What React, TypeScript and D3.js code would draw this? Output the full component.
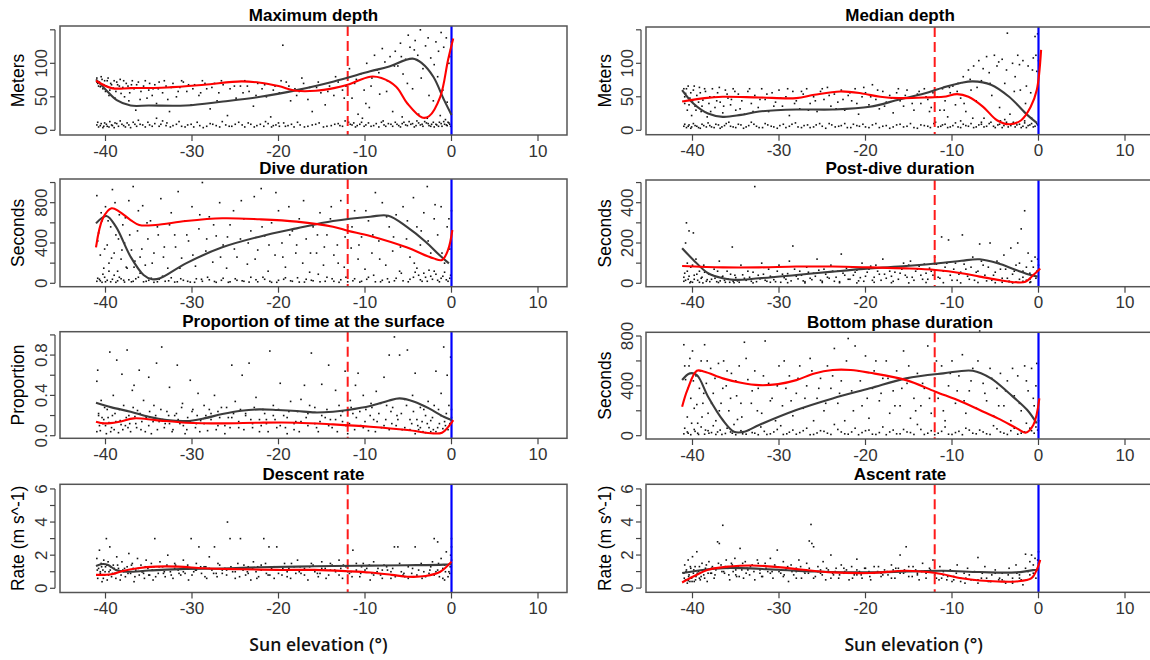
import React from "react";
import * as d3 from "d3";

// ---- shared axis settings ----
const X_TICKS = [-40, -30, -20, -10, 0, 10];
const CIVIL_TWILIGHT = -12;
const HORIZON = 0;

// ---- Maximum depth (m) ----
const maxDepthPts = [
  -41,8, -40.8,5, -40.5,10, -40.2,6, -39.9,9, -39.6,5, -39.2,7, -38.9,11, -38.5,6, -38.1,9, -37.7,5, -37.3,8, -36.8,12, -36.4,6, -36,9, -35.4,5, -34.9,8, -34.3,10, -33.8,6, -33.4,14, -33,7, -32.5,5, -31.8,9, -31.2,6, -30.5,8, -29.8,5, -29.1,7, -28.3,6, -27.6,9, -26.8,5, -26.1,8, -25.4,6, -24.6,12, -23.9,5, -23.2,9, -22.5,7, -21.7,6, -21.2,10, -20.8,5, -20.3,8, -19.9,6, -19.4,11, -18.9,7, -18.2,5, -17.5,8, -16.6,6, -15.7,9, -14.8,5, -13.9,7, -13.1,10, -12.6,6, -11.9,12, -11.5,8, -11.1,5, -10.6,9, -10.1,6, -9.6,11, -9,7, -8.4,5, -7.8,8, -7.3,10, -6.8,6, -6.3,9, -5.9,5, -5.5,12, -5.1,7, -4.7,9, -4.3,5, -4,14, -3.6,8, -3.3,6, -2.9,11, -2.6,7, -2.3,9, -2,5, -1.7,8, -1.4,12, -1.1,6, -0.8,9, -0.5,7, -0.3,11, -0.1,6,
  -40.9,12, -40.6,7, -40.3,4, -40.1,11, -39.8,6, -39.5,13, -39.3,8, -39,4, -38.7,10, -38.3,14, -37.9,7, -37.5,11, -37.1,4, -36.6,9, -36.2,15, -35.7,8, -35.1,12, -34.6,6, -34.1,18, -33.6,9, -32.9,11, -32.2,7, -31.5,13, -30.8,5, -30.1,9, -29.4,12, -28.7,4, -27.9,10, -27.2,7, -26.5,13, -25.7,6, -25,9, -24.2,8, -23.5,11, -22.8,5, -22.1,9, -21.5,13, -20.6,7, -20,11, -19.2,6, -18.5,9, -17.8,12, -17,5, -16.1,8, -15.3,11, -14.4,6, -13.5,9, -12.9,7, -12.3,14, -11.7,9, -11.3,11, -10.9,7, -10.4,12, -9.9,8, -9.3,6, -8.7,10, -8.1,12, -7.6,6, -7,9, -6.5,12, -6.1,7, -5.7,10, -5.3,8, -4.9,13, -4.5,10, -4.1,7, -3.8,11, -3.4,9, -3.1,13, -2.7,10, -2.4,6, -2.1,12, -1.8,9, -1.5,6, -1.2,10, -0.9,13, -0.6,8, -0.4,12, -0.2,9,
  -41,78, -40.9,70, -40.7,72, -40.6,65, -40.4,76, -40.2,68, -40,58, -39.8,74, -39.6,52, -39.4,70, -39.1,63, -38.9,48, -38.7,72, -38.4,66, -38.2,55, -37.9,74, -37.6,70, -37.3,44, -37,68, -36.7,62, -36.5,30, -36.2,72, -35.9,58, -35.6,66, -35.2,48, -34.9,70, -34.5,62, -34.1,40, -33.8,72, -33.4,56, -33,66, -32.6,28, -32.2,70, -31.8,50, -31.4,64, -31,72, -30.6,58, -30.1,38, -29.7,68, -29.2,52, -28.8,74, -28.3,62, -27.9,32, -27.4,70, -26.9,56, -26.4,68, -25.9,22, -25.4,72, -24.9,48, -24.4,66, -23.9,74, -23.4,58, -22.9,36, -22.4,70, -21.9,62, -21.4,50, -20.9,20, -20.4,66, -19.9,56, -19.5,127, -19.1,72, -18.6,44, -18.1,62, -17.6,58, -17.1,70, -16.6,46, -16.1,28, -15.6,64, -15.1,56, -14.6,38, -14.1,66, -13.6,52, -13.1,72, -12.6,60,
  -41,72, -40.8,66, -40.5,80, -40.3,62, -40.1,74, -39.9,66, -39.7,78, -39.5,60, -39.3,68, -39,74, -38.8,58, -38.6,68, -38.3,76, -38,64, -37.8,50, -37.4,66, -37.2,56, -36.9,74, -36.4,68, -36,46, -35.4,74, -35,60, -34.6,52, -34.3,68, -33.9,62, -33.2,74, -32.8,46, -32.4,64, -31.6,58, -31.2,74, -30.4,68, -29.9,62, -29,56, -28.5,70, -27.7,64, -27.1,44, -26.6,74, -25.6,62, -25.1,66, -24.1,56, -23.6,66, -22.6,52, -21.6,68, -20.6,60, -19.7,74, -18.8,66, -17.9,52, -17.3,78, -16.4,64, -15.4,72, -14.3,58, -13.4,80, -12.4,48, -12.2,66,
  -11.8,92, -11.5,48, -11.2,70, -10.8,24, -10.5,84, -10.1,60, -9.8,100, -9.5,34, -9.2,78, -8.9,112, -8.6,90, -8.3,54, -8,122, -7.7,102, -7.4,74, -7.1,110, -6.8,28, -6.5,118, -6.2,96, -5.9,130, -5.6,84, -5.3,106, -5,142, -4.8,124, -4.5,62, -4.2,134, -3.9,112, -3.6,150, -3.3,92, -3,126, -2.7,138, -2.4,108, -2.1,44, -1.8,132, -1.5,118, -1.2,146, -0.9,124, -0.6,138, -0.3,100, -0.1,120, 0,132,
  -11,76, -9.9,40, -9.3,66, -8.4,86, -7.5,58, -6.6,96, -5.8,110, -5.1,70, -4.3,120, -3.5,78, -2.6,52, -2,98, -1.6,80, -1,60, -0.5,42, -0.2,110,
  -10.3,18, -7.9,14, -5.7,20, -3.8,24, -2.8,18, -1.3,22, -0.7,16,
];
const maxDepthSmooth = [-41.1,76, -40,61, -38.7,45, -37.1,37, -35,37, -30.7,37, -26.4,43, -22.1,50, -17.9,60, -13.6,73, -9.4,88, -7.3,95, -4.5,107, -3.4,100, -2.1,80, -0.85,45, 0,23];
const maxDepthModel = [-41.1,74, -39.3,63, -37.1,63, -32.9,64, -28.6,68, -24.3,73, -22.1,71, -20,66, -17.9,59, -15.7,59, -13.6,63, -12,68, -9.4,80, -8.1,78, -6.4,65, -5.1,40, -3.4,19, -2.6,21, -1.3,50, -0.4,105, 0.2,137];

// ---- Median depth (m) ----
const medDepthPts = [
  -41,6, -40.7,4, -40.4,8, -40.1,5, -39.7,7, -39.3,4, -38.9,9, -38.4,5, -38,7, -37.5,4, -37,8, -36.6,5, -36.1,10, -35.6,6, -35,4, -34.4,8, -33.8,5, -33.2,12, -32.6,6, -31.9,4, -31.3,8, -30.6,5, -29.9,7, -29.2,4, -28.5,9, -27.8,5, -27.1,7, -26.4,4, -25.7,8, -25,6, -24.2,10, -23.5,5, -22.8,7, -22.1,4, -21.4,9, -20.7,6, -20,5, -19.2,8, -18.4,4, -17.6,7, -16.8,5, -16,9, -15.2,6, -14.4,4, -13.6,8, -12.8,6, -12.1,10, -11.6,5, -11.1,8, -10.5,4, -9.9,7, -9.3,5, -8.7,9, -8.1,6, -7.5,4, -6.9,8, -6.3,5, -5.7,10, -5.2,6, -4.7,8, -4.2,4, -3.7,12, -3.2,7, -2.7,5, -2.2,9, -1.8,6, -1.4,4, -1,8, -0.6,5, -0.2,10,
  -40.9,9, -40.5,6, -40.2,3, -39.9,10, -39.5,6, -39.1,3, -38.7,7, -38.2,11, -37.8,5, -37.3,9, -36.8,3, -36.3,7, -35.8,12, -35.3,5, -34.7,9, -34.1,3, -33.5,7, -32.9,9, -32.3,4, -31.6,10, -30.9,6, -30.2,3, -29.5,9, -28.8,6, -28.1,11, -27.4,4, -26.7,8, -26,5, -25.3,10, -24.6,3, -23.9,8, -23.1,6, -22.4,10, -21.7,4, -21,7, -20.3,9, -19.6,4, -18.8,10, -18,6, -17.2,3, -16.4,8, -15.6,5, -14.8,10, -14,3, -13.2,7, -12.5,4, -11.9,12, -11.3,6, -10.8,9, -10.2,5, -9.6,11, -9,4, -8.4,7, -7.8,10, -7.2,5, -6.6,9, -6,6, -5.5,12, -5,4, -4.5,9, -4,7, -3.5,5, -3,10, -2.5,8, -2,4, -1.6,11, -1.2,7, -0.8,10, -0.4,6, -0.1,8,
  -41,62, -40.9,40, -40.8,55, -40.6,30, -40.5,66, -40.3,48, -40.1,22, -39.9,60, -39.7,36, -39.5,52, -39.2,64, -39,28, -38.8,45, -38.5,58, -38.3,20, -38,50, -37.7,62, -37.4,34, -37.1,56, -36.8,42, -36.5,26, -36.2,60, -35.9,48, -35.6,38, -35.3,62, -35,30, -34.7,54, -34.3,44, -34,24, -33.6,58, -33.2,40, -32.8,52, -32.4,34, -32,62, -31.6,46, -31.2,28, -30.8,56, -30.4,42, -30,60, -29.6,36, -29.2,50, -28.8,22, -28.4,58, -28,44, -27.6,32, -27.2,54, -26.8,62, -26.4,40, -26,50, -25.6,28, -25.2,58, -24.8,46, -24.4,64, -24,36, -23.6,54, -23.2,42, -22.8,60, -22.4,30, -22,52, -21.6,44, -21.2,62, -20.8,24, -20.4,50, -20,56, -19.6,38, -19.2,68, -18.8,46, -18.4,32, -18,58, -17.6,42, -17.2,52, -16.8,26, -16.4,56, -16,44, -15.6,36, -15.2,60, -14.8,48, -14.4,30, -14,54, -13.6,40, -13.2,62, -12.8,46, -12.4,34, -12.2,56,
  -40.9,50, -40.7,62, -40.4,38, -40.2,56, -40,44, -39.8,66, -39.6,30, -39.3,42, -39.1,56, -38.9,36, -38.6,62, -38.1,40, -37.9,28, -37.5,50, -37.2,44, -36.9,64, -36.4,36, -36,54, -35.5,46, -35.1,58, -34.5,32, -34.1,50, -33.4,62, -33,28, -32.2,46, -31.4,54, -30.6,36, -29.8,48, -29,62, -28.2,40, -27.4,58, -26.6,30, -25.8,44, -25,62, -24.2,52, -23.4,32, -22.6,46, -21.8,56, -21,40, -20.2,64, -19.4,50, -18.6,60, -17.8,36, -17,48, -16.2,62, -15.4,52, -14.6,40, -13.8,58, -13,50, -12.6,28,
  -11.7,50, -11.4,30, -11.1,62, -10.8,44, -10.5,20, -10.2,56, -9.9,66, -9.6,38, -9.3,70, -9,48, -8.7,80, -8.4,28, -8.1,90, -7.8,60, -7.5,96, -7.2,44, -6.9,104, -6.6,74, -6.3,18, -6,110, -5.7,86, -5.4,52, -5.1,112, -4.8,96, -4.5,34, -4.2,106, -3.9,70, -3.6,145, -3.3,24, -3,100, -2.7,80, -2.4,112, -2.1,60, -1.8,104, -1.5,40, -1.2,96, -0.9,56, -0.6,108, -0.4,140, -0.2,88, -0.1,144, 0,104,
  -10.9,30, -10.3,64, -9.4,58, -8.6,40, -7.9,76, -7.1,64, -6.4,92, -5.6,70, -4.6,102, -3.7,90, -2.8,58, -2.2,98, -1.4,66, -0.7,90, -0.3,112,
  -9,14, -7.6,18, -6.6,12, -4.4,14, -3.9,16, -2.9,12, -1.6,14, -0.8,18,
];
const medDepthSmooth = [-41.2,60, -39.9,40, -38.2,25, -36.5,20, -34.4,23, -32.3,28, -28,31, -23.8,31, -19.5,35, -16.1,46, -13.2,55, -11,64, -8.9,71, -7.6,73, -5.5,68, -3.4,50, -1.3,23, -0.2,11];
const medDepthModel = [-41.2,43, -38.6,48, -36.5,50, -32.3,49, -28,48, -25.9,53, -22.9,58, -20.4,55, -18.3,50, -16.1,48, -13.2,49, -11,50, -9.4,54, -8.1,50, -6.4,35, -4.8,15, -3.3,9, -2,15, -0.9,35, -0.2,60, 0.3,120];

// ---- Dive duration (s) ----
const diveDurPts = [
  -41,20, -40.7,40, -40.4,10, -40.1,60, -39.8,30, -39.4,15, -39,80, -38.6,25, -38.2,45, -37.8,12, -37.3,35, -36.8,20, -36.2,60, -35.6,15, -35,30, -34.4,10, -33.8,40, -33.1,20, -32.4,55, -31.7,15, -31,30, -30.2,12, -29.5,45, -28.8,20, -28,35, -27.2,10, -26.4,50, -25.6,15, -24.8,30, -24,20, -23.2,60, -22.4,15, -21.6,40, -20.8,10, -20,30, -19.2,55, -18.4,20, -17.6,12, -16.8,40, -16,25, -15.2,15, -14.4,60, -13.6,20, -12.8,35, -12,15, -11.2,45, -10.4,20, -9.6,60, -8.8,15, -8,30, -7.2,12, -6.4,50, -5.6,25, -4.8,40, -4.2,110, -3.8,80, -3.4,20, -3,60, -2.6,130, -2.2,40, -1.8,90, -1.4,15, -1,70, -0.6,35, -0.2,50,
  -40.9,50, -40.6,25, -40.3,90, -40,15, -39.6,120, -39.2,40, -38.8,10, -38.4,60, -37.9,30, -37.5,150, -37,15, -36.5,45, -36,100, -35.3,20, -34.7,50, -34,15, -33.4,70, -32.7,25, -32,12, -31.3,45, -30.5,20, -29.7,10, -28.9,40, -28.2,60, -27.4,18, -26.6,30, -25.8,10, -25,45, -24.2,25, -23.4,12, -22.6,35, -21.8,60, -21,20, -20.2,10, -19.4,40, -18.6,25, -17.8,55, -17,12, -16.2,30, -15.4,90, -14.6,20, -13.8,45, -13,10, -12.2,60, -11.4,25, -10.6,12, -9.8,40, -9,80, -8.2,15, -7.4,45, -6.6,25, -5.8,100, -5,15, -4.4,60, -4,150, -3.6,35, -3.2,100, -2.8,20, -2.4,70, -2,120, -1.6,30, -1.2,50, -0.8,110, -0.4,20, -0.1,80,
  -41,870, -40.8,500, -40.6,280, -40.4,620, -40.2,150, -40,760, -39.8,380, -39.6,200, -39.4,560, -39.2,930, -39,300, -38.8,480, -38.6,120, -38.4,680, -38.2,240, -38,580, -37.8,400, -37.6,160, -37.3,820, -37,330, -36.8,960, -36.6,220, -36.3,520, -36,260, -35.7,770, -35.4,180, -35.1,440, -34.8,620, -34.4,300, -34,560, -33.6,840, -33.2,360, -32.8,150, -32.4,700, -32,480, -31.6,910, -31.2,250, -30.8,620, -30.4,420, -30,760, -29.6,170, -29.2,540, -28.8,1000, -28.4,320, -28,660, -27.6,210, -27.2,470, -26.8,800, -26.4,380, -26,150, -25.6,580, -25.2,720, -24.8,260, -24.4,440, -24,640, -23.6,190, -23.2,520, -22.8,860, -22.4,330, -22,940, -21.6,470, -21.2,120, -20.8,600, -20.4,280, -20,720, -19.6,400, -19.2,160, -18.8,760, -18.4,520, -18,300, -17.6,640, -17.2,200, -16.8,440, -16.4,110, -16,560, -15.6,300, -15.2,700, -14.8,180, -14.4,480, -14,640, -13.6,280, -13.2,380, -12.8,820, -12.4,160, -12,560, -11.6,350, -11.2,720, -10.8,240, -10.4,460, -10,140, -9.6,620, -9.2,300, -8.8,900, -8.4,420, -8,800, -7.6,180, -7.2,560, -6.8,320, -6.4,680, -6,120, -5.6,760, -5.2,440, -4.8,260, -4.4,850, -4,560, -3.6,380, -3.2,700, -2.8,960, -2.4,300, -2,640, -1.6,480, -1.2,760, -0.8,200, -0.5,560, -0.2,340, 0,720,
  -40.9,420, -40.5,700, -40.1,340, -39.7,620, -39.3,250, -38.9,800, -38.5,440, -38.1,330, -37.7,650, -37.2,480, -36.7,160, -36.2,720, -35.8,340, -35.2,600, -34.6,200, -33.9,480, -33.3,260, -32.6,580, -31.9,360, -31.4,150, -30.6,480, -29.9,280, -29.1,680, -28.3,440, -27.5,580, -26.7,260, -25.9,460, -25.1,340, -24.3,820, -23.5,400, -22.7,240, -21.9,560, -21.1,380, -20.3,900, -19.5,260, -18.7,480, -17.9,380, -17.1,820, -16.3,300, -15.5,480, -14.7,360, -13.9,760, -13.1,200, -12.3,460, -11.5,560, -10.7,380, -9.9,720, -9.1,480, -8.3,240, -7.5,660, -6.7,460, -5.9,360, -5.1,620, -4.3,200, -3.5,520, -2.7,420, -1.9,780, -1.1,300, -0.3,640,
];
const diveDurSmooth = [-41.1,595, -39.9,668, -38.8,562, -37.1,264, -35.6,83, -34.6,40, -33.7,50, -30.7,198, -26.5,357, -22.2,463, -17.9,545, -13.7,618, -9.4,661, -7.3,671, -5.2,562, -3,413, -1.4,281, -0.3,198];
const diveDurModel = [-41.1,357, -40.3,645, -39.3,744, -38.4,711, -37.1,628, -36.1,579, -34.2,579, -30.7,618, -26.5,645, -22.2,635, -17.9,612, -13.7,562, -12,522, -9.4,469, -5.2,357, -2.1,248, -1.1,231, -0.4,331, 0.1,529];

// ---- Post-dive duration (s) ----
const postDivePts = [
  -41,10, -40.9,50, -40.8,200, -40.7,300, -40.6,100, -40.5,20, -40.4,260, -40.2,80, -40,5, -39.9,250, -39.8,40, -39.6,120, -39.4,15, -39.2,60, -39,25, -38.7,90, -38.4,10, -38.1,45, -37.8,20, -37.5,70, -37.2,8, -36.9,110, -36.6,30, -36.3,15, -36,60, -35.7,5, -35.4,180, -35.1,40, -34.8,12, -34.4,90, -34,25, -33.6,60, -33.2,10, -32.8,480, -32.4,40, -32,100, -31.6,15, -31.2,70, -30.8,30, -30.4,8, -30,90, -29.6,45, -29.2,20, -28.8,110, -28.4,185, -28,35, -27.6,60, -27.2,12, -26.8,80, -26.4,25, -26,50, -25.6,120, -25.2,15, -24.8,70, -24.4,30, -24,90, -23.6,10, -23.2,60, -22.8,145, -22.4,40, -22,20, -21.6,80, -21.2,55, -20.8,12, -20.4,100, -20,35, -19.6,70, -19.2,15, -18.8,90, -18.4,45, -18,120, -17.6,25, -17.2,60, -16.8,10, -16.4,80, -16,50, -15.6,100, -15.2,30, -14.8,110, -14.4,15, -14,70, -13.6,40, -13.2,95, -12.8,20, -12.4,60, -12,130, -11.6,30, -11.2,230, -10.8,80, -10.4,215, -10,15, -9.6,100, -9.2,45, -8.8,240, -8.4,70, -8,20, -7.6,130, -7.2,55, -6.8,195, -6.4,90, -6,12, -5.6,200, -5.2,40, -4.8,110, -4.4,70, -4,140, -3.6,25, -3.2,175, -2.8,60, -2.4,200, -2.2,100, -2,270, -1.8,30, -1.6,360, -1.4,80, -1.2,150, -1,20, -0.8,110, -0.6,40, -0.4,130, -0.2,60, 0,90,
  -41,30, -40.8,15, -40.6,60, -40.4,35, -40.2,8, -40,90, -39.8,20, -39.5,45, -39.2,5, -38.9,30, -38.6,55, -38.3,18, -38,8, -37.7,40, -37.4,25, -37.1,60, -36.8,12, -36.5,35, -36.2,5, -35.9,22, -35.6,45, -35.3,10, -35,28, -34.6,5, -34.2,42, -33.8,15, -33.4,30, -33,55, -32.6,8, -32.2,22, -31.8,45, -31.4,10, -31,35, -30.6,18, -30.2,60, -29.8,5, -29.4,28, -29,48, -28.6,12, -28.2,70, -27.8,22, -27.4,40, -27,8, -26.6,55, -26.2,18, -25.8,35, -25.4,65, -25,10, -24.6,45, -24.2,25, -23.8,60, -23.4,30, -23,8, -22.6,50, -22.2,75, -21.8,20, -21.4,40, -21,65, -20.6,28, -20.2,10, -19.8,55, -19.4,85, -19,30, -18.6,60, -18.2,15, -17.8,45, -17.4,75, -17,35, -16.6,55, -16.2,20, -15.8,70, -15.4,40, -15,90, -14.6,30, -14.2,60, -13.8,85, -13.4,20, -13,50, -12.6,75, -12.2,40, -11.8,95, -11.4,25, -11,60, -10.6,100, -10.2,40, -9.8,70, -9.4,15, -9,55, -8.6,95, -8.2,35, -7.8,80, -7.4,15, -7,60, -6.6,110, -6.2,40, -5.8,80, -5.4,15, -5,55, -4.6,100, -4.2,25, -3.8,70, -3.4,10, -3,45, -2.6,90, -2.2,20, -1.8,60, -1.4,15, -1,50, -0.6,80, -0.3,25, -0.1,120,
  -40.3,3, -38.8,2, -37,4, -35.2,3, -33,2, -31,5, -29,3, -27,2, -25,4, -23,3, -21,2, -19,5, -17,3, -15,2, -13,4, -11,3, -9,2, -7,4, -5,3, -3,2, -1,4, -4.2,5, -3.4,8, -2.6,6, -1.8,10, -0.9,7,
];
const postDiveSmooth = [-41.2,174, -39.9,116, -38.2,50, -36.5,25, -35.2,17, -32.3,25, -28,41, -23.8,58, -19.5,74, -15.3,86, -11,102, -8.9,112, -6.8,119, -4.7,99, -2.6,66, -0.9,41, -0.1,33];
const postDiveModel = [-41.2,86, -36.5,79, -32.3,79, -28,83, -23.8,83, -19.5,79, -15.3,74, -11.9,66, -8.9,50, -6.8,33, -4.7,17, -2.6,5, -1.5,8, -0.6,41, 0.2,74];

// ---- Proportion of time at the surface ----
const surfPropPts = [
  -41,0.54, -40.9,0.65, -40.8,0.2, -40.6,0.05, -40.5,0.35, -40.3,0.12, -40.1,0.28, -39.9,0.02, -39.7,0.18, -39.5,0.83, -39.3,0.08, -39.1,0.4, -38.9,0.22, -38.7,0.75, -38.5,0.03, -38.3,0.15, -38.1,0.61, -37.9,0.3, -37.7,0.1, -37.5,0.85, -37.3,0.2, -37.1,0.04, -36.9,0.45, -36.7,0.5, -36.5,0.12, -36.3,0.25, -36.1,0.65, -35.9,0.06, -35.6,0.35, -35.3,0.18, -35,0.58, -34.7,0.02, -34.4,0.3, -34.1,0.72, -33.8,0.14, -33.5,0.88, -33.2,0.08, -32.9,0.24, -32.6,0.48, -32.3,0.04, -32,0.2, -31.7,0.7, -31.4,0.12, -31.1,0.32, -30.8,0.02, -30.5,0.18, -30.2,0.55, -29.9,0.26, -29.6,0.08, -29.3,0.42, -29,0.15, -28.6,0.3, -28.2,0.05, -27.8,0.22, -27.4,0.4, -27,0.1, -26.6,0.28, -26.2,0.02, -25.8,0.18, -25.4,0.7, -25,0.34, -24.6,0.08, -24.2,0.6, -23.8,0.2, -23.4,0.72, -23,0.12, -22.6,0.38, -22.2,0.04, -21.8,0.26, -21.4,0.16, -21,0.84, -20.6,0.3, -20.2,0.08, -19.8,0.52, -19.4,0.2, -19,0.02, -18.6,0.34, -18.2,0.12, -17.8,0.24, -17.4,0.36, -17,0.5, -16.6,0.1, -16.2,0.82, -15.8,0.28, -15.4,0.04, -15,0.51, -14.6,0.18, -14.2,0.7, -13.8,0.08, -13.4,0.45, -13,0.3, -12.6,0.14, -12.3,0.64, -12,0.02, -11.7,0.35, -11.4,0.22, -11.1,0.5, -10.8,0.62, -10.5,0.1, -10.2,0.4, -9.9,0.26, -9.6,0.05, -9.3,0.32, -9,0.16, -8.7,0.44, -8.4,0.22, -8.1,0.08, -7.8,0.58, -7.5,0.3, -7.2,0.8, -6.9,0.12, -6.6,0.98, -6.3,0.2, -6,0.8, -5.7,0.06, -5.4,0.36, -5.1,0.85, -4.8,0.16, -4.5,0.4, -4.2,0.62, -3.9,0.1, -3.6,0.28, -3.3,0.04, -3,0.2, -2.7,0.34, -2.4,0.15, -2.1,0.06, -1.8,0.64, -1.5,0.26, -1.2,0.42, -0.9,0.88, -0.7,0.1, -0.5,0.6, -0.3,0.3, -0.1,0.78, 0,0.18,
  -40.7,0.1, -40.2,0.16, -39.6,0.13, -39,0.06, -38.2,0.11, -37.4,0.08, -36.6,0.19, -35.8,0.14, -35,0.1, -34.2,0.2, -33.4,0.16, -32.6,0.12, -31.8,0.22, -31,0.1, -30.2,0.14, -29.4,0.2, -28.6,0.12, -27.8,0.16, -27,0.24, -26.2,0.1, -25.4,0.18, -24.6,0.14, -23.8,0.22, -23,0.08, -22.2,0.16, -21.4,0.12, -20.6,0.2, -19.8,0.1, -19,0.18, -18.2,0.06, -17.4,0.14, -16.6,0.22, -15.8,0.12, -15,0.2, -14.2,0.1, -13.4,0.16, -12.6,0.24, -11.8,0.12, -11,0.18, -10.2,0.08, -9.4,0.2, -8.6,0.14, -7.8,0.1, -7,0.24, -6.2,0.16, -5.4,0.08, -4.6,0.12, -4.2,0.02, -3.8,0.06, -3.4,0.14, -3,0.03, -2.6,0.08, -2.2,0.18, -1.8,0.04, -1.4,0.12, -1,0.07, -0.6,0.22, -0.2,0.12,
  -41,0.04, -40.8,0.22, -40.4,0.18, -40,0.1, -39.8,0.26, -39.4,0.04, -39.2,0.2, -38.8,0.14, -38.4,0.26, -38,0.06, -37.6,0.18, -37.2,0.12, -36.8,0.28, -36.4,0.08, -36,0.22, -35.4,0.04, -34.9,0.24, -34.5,0.14, -34,0.06, -33.6,0.26, -33.1,0.12, -32.7,0.2, -32.2,0.06, -31.6,0.16, -31.2,0.28, -30.6,0.06, -30,0.24, -29.5,0.12, -29.1,0.04, -28.4,0.2, -28,0.26, -27.2,0.06, -26.8,0.18, -26,0.28, -25.6,0.08, -25.2,0.22, -24.4,0.26, -24,0.06, -23.2,0.16, -22.8,0.28, -22,0.1, -21.6,0.22, -21.2,0.04, -20.4,0.16, -20,0.26, -19.2,0.08, -18.8,0.24, -18,0.14, -17.6,0.04, -16.8,0.18, -16.4,0.3, -15.6,0.08, -15.2,0.14, -14.4,0.26, -14,0.16, -13.2,0.04, -12.8,0.2, -12.2,0.1, -11.6,0.28, -11.2,0.06, -10.6,0.24, -10,0.14, -9.2,0.28, -8.8,0.04, -8.2,0.32, -7.6,0.16, -7.2,0.06, -6.8,0.28, -6.4,0.1, -5.8,0.22, -5.2,0.3, -4.8,0.06, -4.4,0.24, -4,0.16, -3.6,0.08, -3.2,0.26, -2.8,0.12, -2.4,0.04, -2,0.3, -1.6,0.08, -1.2,0.2, -0.8,0.14, -0.4,0.06, 0,0.26,
];
const surfPropSmooth = [-41.1,0.327, -39.3,0.281, -37.1,0.238, -35,0.188, -32.9,0.155, -30.7,0.145, -28.6,0.172, -26.5,0.215, -24.3,0.248, -22.2,0.261, -20.1,0.255, -17.9,0.245, -15.8,0.231, -13.7,0.238, -12,0.255, -9.4,0.294, -7.3,0.347, -6,0.37, -4.3,0.337, -2.6,0.271, -0.9,0.188, 0,0.155];
const surfPropModel = [-41.1,0.139, -40.1,0.122, -38.4,0.139, -36.7,0.172, -34.2,0.155, -30.7,0.129, -26.5,0.122, -22.2,0.129, -17.9,0.129, -13.7,0.112, -9.4,0.089, -5.1,0.056, -2.1,0.023, -1.1,0.03, -0.2,0.106, 0.2,0.155];

// ---- Bottom phase duration (s) ----
const bottomPts = [
  -41,15, -40.6,30, -40.2,8, -39.8,50, -39.4,20, -39,70, -38.6,12, -38.2,40, -37.8,25, -37.3,10, -36.8,45, -36.2,18, -35.6,30, -35,8, -34.4,40, -33.8,12, -33.1,25, -32.4,8, -31.7,35, -31,15, -30.2,50, -29.5,10, -28.8,28, -28,12, -27.2,40, -26.4,8, -25.6,22, -24.8,35, -24,10, -23.2,50, -22.4,15, -21.6,30, -20.8,8, -20,40, -19.2,12, -18.4,25, -17.6,8, -16.8,45, -16,15, -15.2,30, -14.4,10, -13.6,50, -12.8,20, -12,8, -11.2,35, -10.4,12, -9.6,25, -8.8,8, -8,45, -7.2,15, -6.4,30, -5.6,10, -4.8,55, -4,20, -3.2,40, -2.4,12, -1.6,30, -1,60, -0.5,20, -0.1,45,
  -40.9,60, -40.5,20, -40.1,100, -39.7,35, -39.3,10, -38.9,150, -38.5,45, -38.1,20, -37.6,80, -37.1,30, -36.6,10, -36,60, -35.4,20, -34.8,130, -34.2,15, -33.5,45, -32.8,20, -32.1,70, -31.4,10, -30.6,30, -29.8,80, -29.1,15, -28.4,45, -27.6,25, -26.8,60, -26,10, -25.2,40, -24.4,20, -23.6,90, -22.8,30, -22,12, -21.2,60, -20.4,25, -19.6,45, -18.8,10, -18,70, -17.2,30, -16.4,15, -15.6,50, -14.8,25, -14,90, -13.2,10, -12.4,40, -11.6,20, -10.8,70, -10,10, -9.2,35, -8.4,60, -7.6,20, -6.8,45, -6,15, -5.2,80, -4.4,30, -3.6,10, -2.8,60, -2,20, -1.4,100, -0.8,40, -0.3,70,
  -41,730, -40.8,450, -40.6,150, -40.4,560, -40.2,300, -40,680, -39.8,220, -39.6,480, -39.4,100, -39.2,380, -39,600, -38.8,260, -38.6,730, -38.4,420, -38.2,180, -37.9,540, -37.6,340, -37.3,120, -37,580, -36.7,260, -36.4,600, -36.1,400, -35.8,200, -35.5,500, -35.2,90, -34.9,320, -34.6,560, -34.3,150, -34,750, -33.6,450, -33.2,260, -32.8,520, -32.4,380, -32,180, -31.6,760, -31.2,420, -30.8,300, -30.4,120, -30,560, -29.6,240, -29.2,380, -28.8,480, -28.4,160, -28,340, -27.6,560, -27.2,220, -26.8,400, -26.4,620, -26,120, -25.6,300, -25.2,460, -24.8,200, -24.4,560, -24,380, -23.6,700, -23.2,260, -22.8,440, -22.4,120, -22,780, -21.6,360, -21.2,720, -20.8,520, -20.4,240, -20,640, -19.6,140, -19.2,380, -18.8,600, -18.4,280, -18,460, -17.6,600, -17.2,180, -16.8,360, -16.4,520, -16,240, -15.6,680, -15.2,420, -14.8,140, -14.4,300, -14,500, -13.6,240, -13.2,380, -12.8,720, -12.4,180, -12,460, -11.6,300, -11.2,560, -10.8,120, -10.4,400, -10,600, -9.6,260, -9.2,480, -8.8,650, -8.4,180, -8,360, -7.6,540, -7.2,220, -6.8,840, -6.4,420, -6,280, -5.6,540, -5.2,160, -4.8,380, -4.4,500, -4,240, -3.6,440, -3.2,120, -2.8,320, -2.4,480, -2,200, -1.6,560, -1.2,360, -0.8,540, -0.5,240, -0.3,400, 0,120,
  -40.9,560, -40.5,380, -40.3,620, -39.9,440, -39.5,250, -39.1,520, -38.7,340, -38.3,600, -37.8,260, -37.4,460, -36.9,200, -36.5,380, -36,520, -35.6,300, -35,440, -34.4,260, -33.8,620, -33.1,360, -32.5,200, -31.8,480, -31,280, -30.2,400, -29.4,600, -28.6,280, -27.8,460, -27,300, -26.2,520, -25.4,380, -24.6,260, -23.8,480, -23,340, -22.2,600, -21.4,200, -20.6,440, -19.8,300, -19,520, -18.2,340, -17.4,460, -16.6,240, -15.8,380, -15,560, -14.2,200, -13.4,420, -12.6,300, -11.8,600, -11,200, -10.2,500, -9.4,360, -8.6,280, -7.8,440, -7,600, -6.2,340, -5.4,460, -4.6,240, -3.8,360, -3,540, -2.2,260, -1.4,440, -0.6,300, -0.2,580,
];
const bottomSmooth = [-41.2,447, -40.3,500, -39.5,487, -38.2,313, -36.5,126, -35.2,32, -34,32, -32.3,86, -28,206, -23.8,299, -19.5,380, -15.3,460, -11,500, -7.6,521, -5.5,460, -3.4,340, -1.3,206, -0.2,99];
const bottomModel = [-41.2,233, -40.6,366, -39.5,521, -38.6,513, -36.5,460, -34.4,425, -32.3,406, -30.1,414, -28,446, -25.9,500, -23.8,527, -21.7,527, -19.5,505, -15.3,446, -11.9,353, -8.9,273, -6.8,206, -4.7,139, -2.5,59, -1.5,24, -0.6,86, 0.1,300];

// ---- Descent rate (m/s) ----
const descentPts = [
  -41,1.8, -40.9,0.6, -40.8,1.2, -40.7,2.3, -40.6,0.9, -40.5,1.5, -40.4,0.4, -40.3,1.1, -40.2,1.7, -40.1,0.8, -40,1.3, -39.9,3.0, -39.8,0.5, -39.7,1.6, -39.6,1.0, -39.5,2.5, -39.3,0.7, -39.1,1.4, -38.9,0.9, -38.7,1.9, -38.5,1.2, -38.3,0.5, -38.1,1.6, -37.9,1.0, -37.7,0.7, -37.5,1.3, -37.3,2.1, -37.1,0.9, -36.9,1.5, -36.7,0.4, -36.5,1.1, -36.3,1.8, -36.1,0.8, -35.9,1.4, -35.7,1.0, -35.5,0.6, -35.3,1.7, -35.1,1.2, -34.9,0.8, -34.7,1.5, -34.5,0.5, -34.3,3.0, -34.1,1.1, -33.9,0.9, -33.7,1.6, -33.4,1.3, -33.1,0.7, -32.8,2.0, -32.5,1.0, -32.2,0.6, -31.9,1.4, -31.6,1.1, -31.3,0.8, -31,1.7, -30.7,1.2, -30.4,0.5, -30.1,3.0, -29.8,1.0, -29.5,1.5, -29.2,2.5, -28.9,0.9, -28.6,1.3, -28.3,0.6, -28,1.9, -27.7,1.1, -27.4,2.5, -27.1,0.7, -26.8,1.4, -26.5,0.9, -26.2,1.2, -25.9,4.0, -25.6,3.0, -25.3,1.0, -25,0.6, -24.7,1.5, -24.4,3.0, -24.1,1.1, -23.8,0.8, -23.5,1.3, -23.2,0.5, -22.9,1.6, -22.6,1.0, -22.3,0.7, -22,1.4, -21.7,3.0, -21.4,0.9, -21.1,2.5, -20.8,1.2, -20.5,0.6, -20.2,2.5, -19.9,1.1, -19.6,0.8, -19.3,1.5, -19,1.0, -18.6,0.6, -18.2,1.3, -17.8,1.7, -17.4,0.9, -17,1.2, -16.6,0.5, -16.2,1.5, -15.8,1.0, -15.4,0.7, -15,1.6, -14.6,1.2, -14.2,0.8, -13.8,1.4, -13.4,1.0, -13,1.7, -12.6,0.6, -12.2,1.3, -11.8,0.9, -11.4,2.3, -11,1.1, -10.6,0.7, -10.2,1.5, -9.8,1.2, -9.4,0.5, -9,1.6, -8.6,1.0, -8.2,0.8, -7.8,1.4, -7.4,1.1, -7,0.6, -6.6,2.5, -6.2,2.5, -5.8,1.0, -5.4,0.7, -5,1.3, -4.6,0.9, -4.2,2.5, -3.8,1.1, -3.4,0.6, -3,1.4, -2.6,0.9, -2.2,1.6, -2,3.0, -1.8,1.0, -1.6,2.8, -1.4,0.7, -1.2,1.8, -1,1.2, -0.8,0.5, -0.6,2.2, -0.4,1.4, -0.2,0.9, -0.1,2.0, 0,1.7, 0,3.0, 0,2.5,
  -40.6,1.0, -39.4,1.3, -38,1.1, -36.8,1.2, -35.6,0.9, -34.4,1.3, -33.2,1.0, -32,1.2, -30.8,0.9, -29.6,1.1, -28.4,1.3, -27.2,0.9, -26,1.1, -24.8,1.2, -23.6,1.0, -22.4,1.3, -21.2,0.8, -20,1.1, -18.8,1.2, -17.6,1.0, -16.4,1.3, -15.2,0.9, -14,1.1, -12.8,1.2, -11.6,1.0, -10.4,1.3, -9.2,0.9, -8,1.1, -6.8,1.2, -5.6,0.8, -4.4,0.7, -3.2,1.0, -2.4,1.3, -1.6,1.1, -0.8,1.4, -0.3,1.0,
  -40.95,1.1, -40.75,0.8, -40.45,1.3, -40.25,0.6, -40.05,1.0, -39.85,1.4, -39.65,0.8, -39.45,1.1, -39.2,0.9, -39,1.2, -38.8,0.6, -38.6,1.4, -38.4,1.0, -38.2,0.8, -37.8,1.2, -37.4,0.9, -37,1.4, -36.6,0.7, -36.2,1.2, -35.8,1.0, -35.4,1.3, -35,0.8, -34.6,1.1, -34.2,0.7, -33.8,1.3, -33.3,0.9, -32.9,1.4, -32.4,0.8, -32,1.5, -31.5,0.9, -31,1.0, -30.5,1.4, -30,0.8, -29.5,1.1, -29,1.3, -28.5,0.7, -28,1.2, -27.5,0.9, -27,1.5, -26.5,1.1, -26,0.8, -25.5,1.3, -25,1.0, -24.5,0.7, -24,1.4, -23.5,0.9, -23,1.2, -22.5,0.6, -22,1.1, -21.5,1.5, -21,0.8, -20.5,1.3, -20,0.9, -19.5,1.2, -19,0.7, -18.5,1.5, -18,0.9, -17.5,1.3, -17,0.8, -16.5,1.1, -16,1.4, -15.5,0.9, -15,1.2, -14.5,0.6, -14,1.5, -13.5,1.1, -13,0.8, -12.5,1.4, -12,1.0, -11.5,0.7, -11,1.5, -10.5,0.9, -10,1.1, -9.5,1.4, -9,0.8, -8.5,1.2, -8,0.6, -7.5,1.3, -7,1.0, -6.5,0.7, -6,1.5, -5.5,0.9, -5,0.6, -4.5,1.2, -4,0.8, -3.5,1.5, -3,0.7, -2.5,1.1, -2,0.8, -1.5,1.5, -1,0.6, -0.7,1.0, -0.4,0.7, -0.15,1.3,
];
const descentSmooth = [-41.1,1.35, -40.3,1.47, -39.7,1.41, -38.8,1.11, -37.6,1.0, -35,1.07, -30.7,1.17, -26.5,1.19, -22.2,1.27, -17.9,1.31, -13.7,1.35, -9.4,1.37, -5.1,1.39, -0.9,1.43, 0,1.47];
const descentModel = [-41.1,0.81, -39.3,0.85, -38,1.05, -36.3,1.21, -34.2,1.31, -31.6,1.31, -28.6,1.21, -24.3,1.15, -20.1,1.11, -15.8,1.11, -12,1.03, -9.4,0.95, -6.9,0.81, -5.1,0.7, -3,0.74, -1.3,1.0, 0,1.61];

// ---- Ascent rate (m/s) ----
const ascentPts = [
  -41,0.9, -40.9,1.4, -40.8,0.5, -40.7,1.1, -40.6,0.3, -40.5,1.7, -40.4,0.8, -40.3,0.4, -40.2,1.2, -40.1,0.6, -40,1.9, -39.9,0.9, -39.8,0.4, -39.7,1.3, -39.6,0.7, -39.5,2.2, -39.3,1.0, -39.1,0.5, -38.9,1.5, -38.7,0.8, -38.5,1.2, -38.3,0.4, -38.1,1.6, -37.9,0.9, -37.7,1.3, -37.5,0.6, -37.3,1.1, -37.1,2.8, -36.9,2.7, -36.7,1.4, -36.5,3.8, -36.3,0.9, -36.1,1.7, -35.9,1.2, -35.7,0.5, -35.5,1.5, -35.3,1.0, -35.1,1.8, -34.9,0.7, -34.7,1.3, -34.5,2.4, -34.3,1.1, -34.1,0.6, -33.9,1.6, -33.7,1.2, -33.4,0.8, -33.1,1.4, -32.8,0.5, -32.5,1.7, -32.2,1.1, -31.9,0.7, -31.6,1.5, -31.3,1.0, -31,1.8, -30.7,0.6, -30.4,1.3, -30.2,2.3, -29.8,0.9, -29.5,1.6, -29.2,1.1, -28.9,0.4, -28.6,1.4, -28.3,0.8, -28,1.2, -27.7,1.7, -27.4,0.6, -27.1,1.0, -26.8,1.5, -26.5,2.85, -26.3,3.85, -26.2,2.7, -26,2.5, -25.8,0.7, -25.5,1.3, -25.2,0.9, -24.9,1.6, -24.6,0.5, -24.3,1.1, -24,2.0, -23.7,0.8, -23.4,1.2, -23.1,0.6, -22.8,1.4, -22.5,0.9, -22.2,1.1, -21.9,0.5, -21.6,1.3, -21.3,0.8, -21,1.75, -20.7,1.0, -20.4,0.6, -20.1,1.2, -19.8,0.9, -19.4,0.5, -19,1.3, -18.6,1.0, -18.2,0.7, -17.8,1.1, -17.4,0.8, -17,1.4, -16.6,0.6, -16.2,1.2, -16,2.0, -15.6,0.9, -15.3,2.5, -15,1.3, -14.6,0.7, -14.2,1.1, -13.8,0.5, -13.4,1.5, -13,0.9, -12.6,1.2, -12.2,1.7, -11.8,0.6, -11.4,1.3, -11,0.8, -10.6,0.5, -10.2,1.1, -9.8,0.7, -9.4,1.4, -9,0.4, -8.6,0.9, -8.2,1.2, -7.8,0.5, -7.4,1.0, -7,1.85, -6.6,0.6, -6.2,1.3, -5.8,0.4, -5.4,0.8, -5,1.1, -4.6,0.5, -4.2,0.9, -3.8,0.3, -3.4,1.2, -3,0.6, -2.6,1.4, -2.2,0.8, -1.8,0.2, -1.5,2.05, -1.2,1.0, -1,1.6, -0.8,2.0, -0.6,0.7, -0.4,1.8, -0.2,1.1, 0,2.2, 0,1.5,
  -40.5,0.45, -39.2,0.6, -37.8,0.9, -36.4,1.0, -35,0.8, -33.6,1.1, -32.2,0.9, -30.8,1.0, -29.4,0.8, -28,1.0, -26.6,0.9, -25.2,1.1, -23.8,0.9, -22.4,1.0, -21,0.8, -19.6,1.0, -18.2,0.9, -16.8,1.1, -15.4,1.0, -14,0.9, -12.6,1.0, -11.2,0.6, -9.8,0.5, -8.4,0.6, -7,0.5, -5.6,0.4, -4.2,0.5, -3,0.4, -2.2,0.6, -1.4,0.5, -0.6,0.9,
  -40.95,0.6, -40.75,1.0, -40.45,0.7, -40.25,1.3, -40.05,0.4, -39.85,1.1, -39.65,0.5, -39.45,0.9, -39.2,1.3, -39,0.7, -38.8,1.1, -38.6,0.6, -38.4,1.4, -38.2,0.9, -37.8,1.2, -37.4,0.8, -37,1.5, -36.6,1.0, -36.2,1.3, -35.8,0.8, -35.4,1.4, -35,1.1, -34.6,0.7, -34.2,1.5, -33.8,0.9, -33.3,1.3, -32.9,1.0, -32.4,1.5, -32,0.7, -31.5,1.2, -31,0.9, -30.5,1.4, -30,1.0, -29.5,0.7, -29,1.3, -28.5,1.0, -28,0.6, -27.5,1.3, -27,0.9, -26.5,1.2, -26,0.6, -25.5,1.0, -25,0.8, -24.5,1.2, -24,0.6, -23.5,1.0, -23,0.8, -22.5,1.2, -22,0.9, -21.5,0.6, -21,1.1, -20.5,0.8, -20,1.2, -19.5,0.7, -19,0.9, -18.5,1.3, -18,0.8, -17.5,1.0, -17,0.6, -16.5,1.2, -16,0.9, -15.5,1.1, -15,0.7, -14.5,1.3, -14,0.8, -13.5,1.0, -13,0.6, -12.5,1.1, -12,0.8, -11.5,0.5, -11,1.0, -10.5,0.7, -10,0.4, -9.5,0.9, -9,0.6, -8.5,0.3, -8,0.8, -7.5,0.5, -7,0.3, -6.5,0.9, -6,0.6, -5.5,0.4, -5,0.9, -4.5,0.6, -4,0.4, -3.5,0.8, -3,0.3, -2.5,0.9, -2,0.5, -1.5,1.2, -1,0.8, -0.6,1.4, -0.3,0.6, -0.1,1.7,
];
const ascentSmooth = [-41.2,0.91, -38.6,1.11, -36.5,1.21, -34.4,1.21, -30.1,1.11, -25.9,1.0, -19.5,0.95, -15.3,1.0, -11,1.05, -6.8,0.97, -2.6,0.95, 0,1.15];
const ascentModel = [-41.2,0.34, -39.9,0.7, -38.2,1.11, -35.7,1.31, -33.1,1.37, -30.1,1.27, -27.2,1.11, -23.8,0.95, -19.5,0.91, -15.3,1.05, -11.9,0.91, -8.9,0.6, -6.8,0.46, -4.7,0.4, -2.6,0.4, -0.8,0.6, -0.2,1.11, 0.2,1.71];

// ---- panel titles, axis labels and value ticks ----
const titles = [
  "Maximum depth", "Median depth", "Dive duration", "Post-dive duration",
  "Proportion of time at the surface", "Bottom phase duration", "Descent rate", "Ascent rate",
];
const yTitles = ["Meters", "Meters", "Seconds", "Seconds", "Proportion", "Seconds", "Rate (m s^-1)", "Rate (m s^-1)"];
const yTickSets = [
  [0, 50, 100, 150], [0, 50, 100, 150],
  [0, 200, 400, 600, 800, 1000], [0, 100, 200, 300, 400, 500],
  [0, 0.2, 0.4, 0.6, 0.8, 1.0], [0, 200, 400, 600, 800],
  [0, 1, 2, 3, 4, 5, 6], [0, 1, 2, 3, 4, 5, 6],
];
const yLabelSets = [
  ["0", "50", "100"], ["0", "50", "100"],
  ["0", "400", "800"], ["0", "200", "400"],
  ["0.0", "0.4", "0.8"], ["0", "400", "800"],
  ["0", "2", "4", "6"], ["0", "2", "4", "6"],
];
const yLabelValues = [
  [0, 50, 100], [0, 50, 100],
  [0, 400, 800], [0, 200, 400],
  [0, 0.4, 0.8], [0, 400, 800],
  [0, 2, 4, 6], [0, 2, 4, 6],
];
const yDomains: [number, number][] = [
  [-7.0, 155.7], [-6.6, 154.2],
  [-33.7, 1035], [-16.9, 512.7],
  [-0.0258, 1.032], [-26.5, 829.8],
  [-0.254, 6.28], [-0.254, 6.28],
];
const pointSets = [maxDepthPts, medDepthPts, diveDurPts, postDivePts, surfPropPts, bottomPts, descentPts, ascentPts];
const smoothSets = [maxDepthSmooth, medDepthSmooth, diveDurSmooth, postDiveSmooth, surfPropSmooth, bottomSmooth, descentSmooth, ascentSmooth];
const modelSets = [maxDepthModel, medDepthModel, diveDurModel, postDiveModel, surfPropModel, bottomModel, descentModel, ascentModel];

// ---- page geometry ----
const W = 1150;
const H = 660;
const PX_PER_DEG = 8.65;
const COLS = [
  { zeroX: 451.5, frameLeft: 60, frameRight: 567, yTitleX: 18, xTitleX: 318.5 },
  { zeroX: 1038.5, frameLeft: 646, frameRight: 1154, yTitleX: 605, xTitleX: 913.6 },
];
const ROW_FRAMES: [number, number][] = [
  [26, 135], [27, 134.7],
  [179, 286.7], [180, 286.7],
  [331.7, 438.3], [332.3, 439],
  [484.3, 592.5], [484.3, 592.3],
];
const TITLE_Y = [15.5, 15.5, 168.5, 168.5, 321.5, 322, 474.5, 474.5];
const X_TITLE = "Sun elevation (°)";

const FONT = "Arial, 'Liberation Sans', Helvetica, sans-serif";

function pairs(flat: number[]): [number, number][] {
  const out: [number, number][] = [];
  for (let i = 0; i + 1 < flat.length; i += 2) out.push([flat[i], flat[i + 1]]);
  return out;
}

function Panel({ i }: { i: number }) {
  const col = COLS[i % 2];
  const [top, bottom] = ROW_FRAMES[i];
  const x = d3.scaleLinear().domain([0, 10]).range([col.zeroX, col.zeroX + 10 * PX_PER_DEG]);
  const y = d3.scaleLinear().domain(yDomains[i]).range([bottom, top]);
  const line = d3
    .line<[number, number]>()
    .x((d) => x(d[0]))
    .y((d) => y(d[1]))
    .curve(d3.curveCatmullRom.alpha(0.5));
  const pts = pairs(pointSets[i]);
  const centerX = (col.frameLeft + col.frameRight) / 2;
  const drawRight = i % 2 === 0 ? col.frameRight : W + 20;
  const axisX = col.frameLeft - 5;
  const ticks = yTickSets[i];
  const tickColor = "#444";
  const labelX = col.frameLeft - 18;
  const midY = (top + bottom) / 2;

  return (
    <g>
      <text
        x={centerX}
        y={TITLE_Y[i]}
        dominantBaseline="central"
        textAnchor="middle"
        fontFamily={FONT}
        fontWeight="bold"
        fontSize={17}
        fill="#000"
      >
        {titles[i]}
      </text>

      {/* scatter of individual dives */}
      <g fill="#111">
        {pts.map((p, k) => (
          <rect key={k} x={x(p[0]) - 0.8} y={y(p[1]) - 0.8} width={1.6} height={1.6} />
        ))}
      </g>

      {/* reference lines: civil twilight and horizon */}
      <line
        x1={x(CIVIL_TWILIGHT)}
        x2={x(CIVIL_TWILIGHT)}
        y1={top}
        y2={bottom}
        stroke="#ff1a1a"
        strokeWidth={2}
        strokeDasharray="10,5"
      />
      <line x1={x(HORIZON)} x2={x(HORIZON)} y1={top} y2={bottom} stroke="#0000ff" strokeWidth={2.2} />

      {/* fitted curves */}
      <path d={line(pairs(smoothSets[i])) || ""} fill="none" stroke="#3c3c3c" strokeWidth={2.1} />
      <path d={line(pairs(modelSets[i])) || ""} fill="none" stroke="#ff0000" strokeWidth={2.1} />

      {/* frame */}
      <rect
        x={col.frameLeft}
        y={top}
        width={drawRight - col.frameLeft}
        height={bottom - top}
        fill="none"
        stroke="#555"
        strokeWidth={1.5}
      />

      {/* x axis ticks */}
      {X_TICKS.map((t) => (
        <g key={t}>
          <line x1={x(t)} x2={x(t)} y1={bottom} y2={bottom + 6} stroke={tickColor} strokeWidth={1.2} />
          <text
            x={x(t)}
            y={bottom + 16}
            textAnchor="middle"
            dominantBaseline="central"
            fontFamily={FONT}
            fontSize={17}
            fill="#333"
          >
            {t}
          </text>
        </g>
      ))}

      {/* y axis */}
      <line x1={axisX} x2={axisX} y1={y(ticks[0])} y2={y(ticks[ticks.length - 1])} stroke={tickColor} strokeWidth={1.2} />
      {ticks.map((t) => (
        <line key={t} x1={axisX} x2={axisX - 5} y1={y(t)} y2={y(t)} stroke={tickColor} strokeWidth={1.2} />
      ))}
      {yLabelValues[i].map((v, k) => (
        <text
          key={k}
          x={labelX}
          y={y(v)}
          transform={`rotate(-90, ${labelX}, ${y(v)})`}
          textAnchor="middle"
          dominantBaseline="central"
          fontFamily={FONT}
          fontSize={17}
          fill="#333"
        >
          {yLabelSets[i][k]}
        </text>
      ))}
      <text
        x={col.yTitleX}
        y={midY}
        transform={`rotate(-90, ${col.yTitleX}, ${midY})`}
        textAnchor="middle"
        dominantBaseline="central"
        fontFamily={FONT}
        fontSize={17.5}
        fill="#000"
      >
        {yTitles[i]}
      </text>
    </g>
  );
}

export default function App() {
  return (
    <div style={{ position: "absolute", left: 0, top: 0, width: W, height: H, background: "#fff", overflow: "hidden" }}>
      <svg width={W} height={H} viewBox={`0 0 ${W} ${H}`} style={{ display: "block" }}>
        <rect x={0} y={0} width={W} height={H} fill="#fff" />
        {titles.map((_, i) => (
          <Panel key={i} i={i} />
        ))}
        {COLS.map((c, k) => (
          <text
            key={k}
            x={c.xTitleX}
            y={644}
            textAnchor="middle"
            dominantBaseline="central"
            fontFamily="'Open Sans', sans-serif"
            fontWeight={600}
            fontSize={17.6}
            fill="#111"
          >
            {X_TITLE}
          </text>
        ))}
      </svg>
    </div>
  );
}
